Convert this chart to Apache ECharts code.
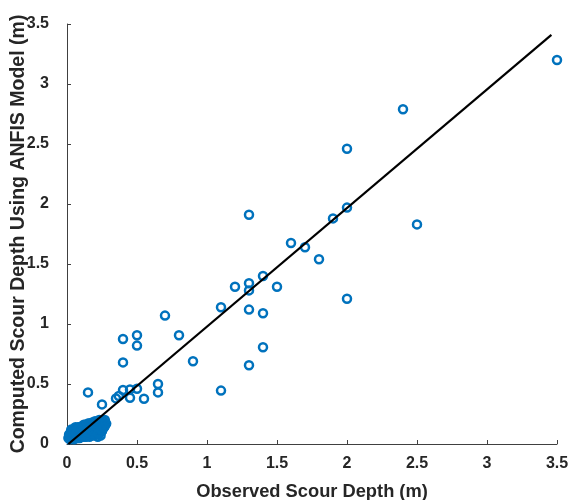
<!DOCTYPE html>
<html><head><meta charset="utf-8">
<script src="https://cdn.jsdelivr.net/npm/echarts@6/dist/echarts.min.js"></script>
<style>html,body{margin:0;padding:0;background:#fff}#c{width:569px;height:500px}</style>
</head><body><div id="c"></div>
<script>
var xTicks = [0, 0.5, 1, 1.5, 2, 2.5, 3, 3.5];
var yTicks = [0, 0.5, 1, 1.5, 2, 2.5, 3, 3.5];
var observed = [3.5,2.4,2.0,2.0,1.9,2.5,1.3,2.0,1.6,1.7,1.8,1.4,1.3,1.3,1.2,1.5,1.1,1.3,1.4,0.7,0.8,1.4,1.3,1.1,0.9,0.4,0.5,0.5,0.4,0.15,0.4,0.45,0.5,0.65,0.65,0.35,0.45,0.55,0.25,0.37,
  0.02,0.03,0.03,0.04,0.04,0.05,0.05,0.05,0.06,0.06,0.07,0.07,0.08,0.08,0.09,0.09,0.1,0.1,0.11,0.11,0.12,0.12,0.13,0.13,0.14,0.14,0.15,0.15,0.16,0.16,0.17,0.18,0.18,0.18,0.19,0.2,0.2,0.21,0.21,0.22,0.23,0.24,0.25,0.26,0.27,0.02,0.03,0.06,0.22,0.19,
  0.01,0.02,0.04,0.05,0.07,0.08,0.1,0.11,0.13,0.14,0.16,0.17,0.19,0.2,0.22,0.23,0.24,0.25,0.26,0.28,0.03,0.06,0.09,0.12,0.15,0.18,0.21,0.24,0.27,0.08,0.12,0.16,0.2,0.23,
  0.02,0.04,0.06,0.08,0.1,0.12,0.14,0.16,0.18,0.2,0.22,0.24,0.26,0.03,0.05,0.07,0.09,0.11,0.13,0.15,0.17,0.19,0.21,0.23,0.25,0.27,
  0.015,0.035,0.055,0.075,0.095,0.115,0.135,0.155,0.175,0.195,0.215,0.235,0.255,0.025,0.045,0.065,0.085,0.105,0.125,0.145,0.165,0.185,0.205,0.225,0.245,0.265];
var computed = [3.2,2.79,2.46,1.97,1.88,1.83,1.91,1.21,1.675,1.64,1.54,1.4,1.34,1.28,1.31,1.31,1.14,1.12,1.09,1.07,0.906,0.806,0.656,0.445,0.69,0.875,0.906,0.82,0.68,0.43,0.45,0.455,0.46,0.5,0.43,0.38,0.386,0.377,0.33,0.4,
  0.04,0.06,0.09,0.05,0.11,0.04,0.08,0.12,0.06,0.1,0.05,0.13,0.07,0.11,0.05,0.14,0.09,0.12,0.06,0.15,0.08,0.13,0.1,0.16,0.07,0.12,0.14,0.17,0.09,0.11,0.15,0.08,0.13,0.18,0.16,0.1,0.19,0.08,0.14,0.17,0.2,0.18,0.16,0.19,0.2,0.08,0.12,0.14,0.1,0.12,
  0.05,0.06,0.08,0.1,0.09,0.05,0.07,0.1,0.06,0.09,0.06,0.12,0.07,0.12,0.06,0.09,0.07,0.11,0.14,0.17,0.07,0.07,0.1,0.11,0.1,0.11,0.12,0.13,0.15,0.14,0.16,0.17,0.16,0.15,
  0.07,0.09,0.11,0.09,0.11,0.1,0.09,0.13,0.11,0.13,0.12,0.1,0.17,0.1,0.06,0.12,0.07,0.08,0.06,0.09,0.07,0.1,0.09,0.12,0.11,0.17,
  0.08,0.1,0.07,0.12,0.08,0.1,0.08,0.12,0.09,0.15,0.1,0.14,0.13,0.06,0.1,0.09,0.13,0.07,0.11,0.1,0.13,0.11,0.15,0.09,0.12,0.14];
var fitX = [0.01, 3.46];
var fitY = [0.0, 3.41];

var pts = observed.map(function(x,i){return [x, computed[i]];});
var fit = fitX.map(function(x,i){return [x, fitY[i]];});
var chart = echarts.init(document.getElementById('c'));
var labelStyle = {color: '#262626', fontFamily: 'Liberation Sans', fontWeight: 'bold', fontSize: 16, margin: 12,
  formatter: function(v){return String(v);}};
var axisCommon = {
  min: 0, max: 3.5, interval: 0.5,
  axisLine: {show: true, lineStyle: {color: '#404040', width: 1}},
  axisTick: {show: true, inside: true, length: 4, lineStyle: {color: '#404040'}},
  splitLine: {show: false},
  nameLocation: 'middle',
  nameMoveOverlap: false,
  nameTextStyle: {color: '#262626', fontFamily: 'Liberation Sans', fontWeight: 'bold', fontSize: 18}
};
chart.setOption({
  animation: false,
  grid: {left: 67, right: 12, top: 24, bottom: 56, containLabel: false, outerBoundsMode: 'none'},
  xAxis: Object.assign({}, axisCommon, {type: 'value', name: 'Observed Scour Depth (m)', nameGap: 39,
    nameTextStyle: Object.assign({}, axisCommon.nameTextStyle, {fontSize: 18.3}),
    axisLabel: Object.assign({}, labelStyle, {margin: 12})}),
  yAxis: Object.assign({}, axisCommon, {type: 'value', name: 'Computed Scour Depth Using ANFIS Model (m)', nameGap: 38,
    nameTextStyle: Object.assign({}, axisCommon.nameTextStyle, {fontSize: 19.5}),
    axisLabel: Object.assign({}, labelStyle, {margin: 18})}),
  series: [
    {type: 'scatter', data: pts, symbol: 'circle', symbolSize: 8,
     itemStyle: {color: 'rgba(255,255,255,0)', borderColor: '#0072BD', borderWidth: 2.5, opacity: 1}, z: 2},
    {type: 'line', data: fit, symbol: 'none', lineStyle: {color: '#000', width: 2.2}, z: 3}
  ]
});
</script></body></html>
